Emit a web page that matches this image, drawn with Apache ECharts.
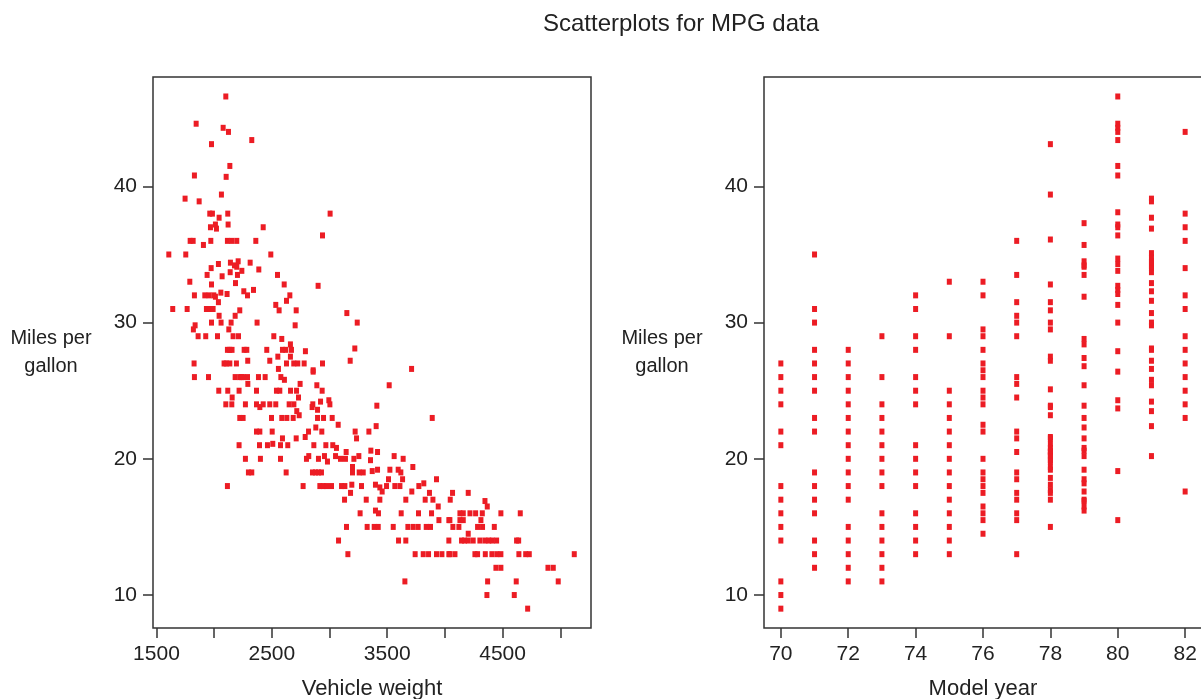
<!DOCTYPE html>
<html>
<head>
    <meta charset="utf-8" />
    <title>Scatterplots for MPG data</title>
    <style>
        html, body { margin: 0; padding: 0; background: #fff; }
        #container { width: 1201px; height: 699px; }
    </style>
</head>
<body>
<div id="container"></div>
<script src="https://cdn.jsdelivr.net/npm/echarts@6.0.0/dist/echarts.min.js"></script>
<script type="text/javascript">

    // left panel: vehicle weight vs miles per gallon
    var weightVals = [
        2101,1844,2078,2124,1977,2326,2136,1829,2104,1748,1870,2063,1962,1985,2043,2118,3005,1968,2011,2020,
        2121,2425,1792,1818,1907,1971,2115,2153,2196,2361,2939,1607,1754,2491,1974,2037,2141,2176,2196,2208,
        2139,2202,2240,2312,2387,1939,2069,2549,2607,2901,1789,1977,2185,1829,1919,1956,1997,2011,2037,2058,
        2112,2257,2289,2341,2656,2627,2534,2563,2711,3150,3240,1641,1766,1933,1960,1991,2043,2182,2222,1820,
        1835,1977,2060,2147,2127,2372,2702,1861,1927,2029,2164,2211,2517,2586,2661,3219,3179,3711,1826,2086,
        2105,2136,2193,2115,2135,2155,2260,2283,2456,2592,2621,2670,2791,2291,2482,2552,2661,2627,2690,2725,
        2780,2939,2557,2858,
        1829,1951,2182,2222,2237,2251,2289,2384,2442,2578,2609,2858,2890,3517,2040,2118,2216,2367,2540,2569,
        2662,2714,2936,2745,2292,2156,2731,2101,2153,2271,2367,2396,2425,2482,2534,2650,2691,2849,2855,2896,
        2922,2994,3003,2716,2737,3410,2222,2251,2497,2586,2630,2685,2896,2948,3023,3075,2881,3222,3341,3234,
        3404,3890,2367,2396,2503,2592,2711,2789,2818,2933,2216,2393,2462,2508,2575,2638,2864,2968,3028,3060,
        2271,2401,2575,2800,2820,2904,2956,2982,3052,3095,3138,3144,3211,3254,3358,3416,3355,3560,3638,3722,
        2297,2326,2624,2852,2878,2904,2930,3199,3199,3257,3292,3370,3416,3523,3595,3618,3633,3511,3566,3610,
        3927,3774,3817,3713,3866,3829,3896,3942,2771,2916,2945,2974,3017,3104,3133,3193,3277,3398,3436,3456,
        3494,2115,3182,3130,3318,3436,3661,3398,3424,3265,3621,3771,3884,3147,3326,3387,3422,3552,3679,3725,
        3768,3838,3875,3948,4034,3078,3598,3661,4034,3159,3742,3812,3858,3927,3974,4034,3653,
        4066,4202,4046,4347,4367,4130,4159,4217,4266,4324,4485,4653,4043,4130,4159,4312,4069,4121,4283,4326,
        4428,4202,4144,4170,4202,4245,4303,4347,4380,4410,4448,4621,4639,4043,4087,4260,4283,4350,4407,4450,
        4485,4641,4700,4731,5121,4442,4485,4893,4939,4370,4618,4982,4364,4601,4717
    ];
    var weightMpg = [
        46.6,44.6,44.3,44.0,43.1,43.4,41.5,40.8,40.7,39.1,38.9,39.4,38,38,37.7,38,38,37,37.2,36.9,
        37.2,37,36,36,35.7,36,36,36,36,36,36.4,35,35,35,34,34.3,34.4,34.2,34.1,34.5,
        33.7,33.5,33.8,34.4,33.9,33.5,33.4,33.5,32.8,32.7,33,32.8,32.9,32,32,32,32,31.9,31.5,32.2,
        32.1,32.3,32,32.4,32,31.6,31.3,30.9,30.9,30.7,30,31,31,31,31,31,30.5,30.5,30.9,29.5,
        29.8,30,30,30,29.5,30,29.8,29,29,29,29,29,29,28.8,28.4,28.1,27.2,26.6,27,27,
        27,27,27,28,28,28,28,28,28,28,28,28,27.9,27.2,27.2,27.5,27.5,27,27,27,
        27,27,26.6,26.5,
        26,26,26,26,26,26,26,26,26,26,25.8,26.4,25.4,25.4,25,25,25,25,25,25,
        25,25,25,25.5,25.5,24.5,24.5,24,24,24,24,23.8,24,24,24,24,24,23.8,24,23.6,
        24.2,24.3,24,23.5,23.2,23.9,23,23,23,23,23,23,23,23,23,22.5,22.3,22,22,21.5,
        22.4,23,22,22,22,21.5,21.5,21.6,22,22,21,21,21,21.1,21,21,21,21,21,20.8,
        20,20,20,20,20.2,20,20.2,19.8,20.2,20,20,20.5,20,20.2,20.6,20.5,19.9,20.2,20,19.4,
        19,19,19,19,19,19,19,19.4,19,19,19,19.1,19.2,19.2,19.2,19,18.5,18.5,18,18,
        18.5,18,18.2,17.6,17.5,17,17,16.5,18,18,18,18,18,18,18,18.1,18,18.1,17.9,17.6,
        18,18,17.5,17,17,17,17,16.2,16,16,16,16,16,15,15,15,15,15,15,15,
        15,15,15,15.5,15.5,14,14,14,14,13,13,13,13,13,13,13,11,
        17.5,17.5,17,16.9,16.5,16,16,16,16,16,16,16,15.5,15.5,15.5,15.5,15,15,15,15,
        15,14.5,14,14,14,14,14,14,14,14,14,14,14,13,13,13,13,13,13,13,
        13,13,13,13,13,12,12,12,12,11,11,11,10,10,9
    ];

    // right panel: model year vs miles per gallon
    var yearVals = [
        70,70,70,70,70,70,70,70,70,70,70,70,70,70,
        71,71,71,71,71,71,71,71,71,71,71,71,71,71,71,71,
        72,72,72,72,72,72,72,72,72,72,72,72,72,72,72,72,72,
        73,73,73,73,73,73,73,73,73,73,73,73,73,73,73,
        74,74,74,74,74,74,74,74,74,74,74,74,74,74,74,
        75,75,75,75,75,75,75,75,75,75,75,75,75,75,75,
        76,76,76,76,76,76,76,76,76,76,76,76,76,76,76,76,76,76,76,76,76,76,
        77,77,77,77,77,77,77,77,77,77,77,77,77,77,77,77,77,77,77,
        78,78,78,78,78,78,78,78,78,78,78,78,78,78,78,78,78,78,78,78,78,78,78,78,78,78,78,78,78,78,78,78,
        79,79,79,79,79,79,79,79,79,79,79,79,79,79,79,79,79,79,79,79,79,79,79,79,79,79,79,
        80,80,80,80,80,80,80,80,80,80,80,80,80,80,80,80,80,80,80,80,80,80,80,80,80,
        81,81,81,81,81,81,81,81,81,81,81,81,81,81,81,81,81,81,81,81,81,81,81,81,81,81,81,
        82,82,82,82,82,82,82,82,82,82,82,82,82,82,82
    ];
    var yearMpg = [
        27,26,25,24,22,21,18,17,16,15,14,11,10,9,
        35,31,30,28,27,26,25,23,22,19,18,17,16,14,13,12,
        28,27,26,25,24,23,22,21,20,19,18,17,15,14,13,12,11,
        29,26,24,23,22,21,20,19,18,16,15,14,13,12,11,
        32,31,29,28,26,25,24,21,20,19,18,16,15,14,13,
        33,29,25,24,23,22,21,20,19,18,17,16,15,14,13,
        33,32,29.5,29,28,27,26.5,26,25,24.5,24,22.5,22,20,19,18.5,18,17.5,16.5,16,15.5,14.5,13,
        36,33.5,31.5,30.5,30,29,26,25.5,24.5,22,21.5,20.5,19,18.5,17.5,17,16,15.5,15,
        43.1,39.4,36.1,32.8,31.5,30.9,30,29.5,27.5,27.2,25.1,23.9,23.8,23.2,21.6,21.5,21.1,20.8,20.6,20.5,20.3,20.2,19.9,19.8,19.4,19.2,18.6,18.1,17.7,17.5,17,16.2,
        37.3,35.7,34.5,34.2,34.1,33.5,31.9,28.8,28.4,27.4,26.8,25.4,23.9,23,22.3,21.5,20.8,20.6,20.2,19.2,18.5,18.2,17.6,17,16.9,16.5,15.5,
        46.6,44.6,44.3,44,43.4,41.5,40.8,38.1,37.2,37,36.4,34.7,34.3,33.8,32.7,32.4,32.1,31.3,30,27.9,26.4,24.3,23.7,19.1,29.8,
        39.1,38.9,37.7,36.9,35.1,34.8,34.5,34.4,34.1,34,33.7,32.9,32.3,31.6,30.7,30,28.1,28,27.2,26.6,25.8,25.4,24.2,23.5,22.4,20.2,17.6,
        44,38,37,36,34,32,31,29,28,27,26,25,24,23,22
    ];

    var weightTicks = [1500, 2000, 2500, 3000, 3500, 4000, 4500, 5000];
    var weightLabels = [1500, 2500, 3500, 4500];
    var yearTicks = [70, 72, 74, 76, 78, 80, 82];
    var mpgTicks = [10, 20, 30, 40];

    var font = '"Liberation Sans", Arial, sans-serif';
    var ink = '#222';
    var frame = '#333';
    var red = '#ec1c24';

    function pairs(xs, ys) {
        var out = [];
        for (var i = 0; i < xs.length; i++) out.push([xs[i], ys[i]]);
        return out;
    }

    function plain(v) { return String(v); }

    function xAxisFor(idx, name, min, max, ticks, labels) {
        return {
            type: 'value', gridIndex: idx, min: min, max: max,
            name: name, nameLocation: 'middle', nameGap: 50,
            nameTextStyle: { fontFamily: font, fontSize: 22, color: ink },
            axisLine: { show: false },
            splitLine: { show: false },
            axisTick: { show: true, length: 10, customValues: ticks,
                        lineStyle: { color: frame, width: 1.5 } },
            axisLabel: { customValues: labels, formatter: plain, margin: 16,
                         fontFamily: font, fontSize: 21, color: ink }
        };
    }

    function yAxisFor(idx) {
        return {
            type: 'value', gridIndex: idx, min: 7.58, max: 48.03,
            name: 'Miles per\ngallon', nameLocation: 'middle', nameRotate: 0, nameGap: 102,
            nameTextStyle: { fontFamily: font, fontSize: 20, color: ink, align: 'center', lineHeight: 28 },
            axisLine: { show: false },
            splitLine: { show: false },
            axisTick: { show: true, length: 10, customValues: mpgTicks,
                        lineStyle: { color: frame, width: 1.5 } },
            axisLabel: { customValues: mpgTicks, formatter: plain, margin: 16,
                         fontFamily: font, fontSize: 21, color: ink }
        };
    }

    var chart = echarts.init(document.getElementById('container'));

    chart.setOption({
        animation: false,
        backgroundColor: '#fff',
        title: {
            text: 'Scatterplots for MPG data',
            left: 676, top: 7, textAlign: 'center',
            textStyle: { fontFamily: font, fontSize: 24, fontWeight: 'normal', color: ink }
        },
        grid: [
            { left: 153, top: 77, width: 438, height: 551, show: true, borderColor: frame, borderWidth: 1.5,
              outerBoundsMode: 'none', containLabel: false },
            { left: 764, top: 77, width: 438, height: 551, show: true, borderColor: frame, borderWidth: 1.5,
              outerBoundsMode: 'none', containLabel: false }
        ],
        xAxis: [
            xAxisFor(0, 'Vehicle weight', 1470, 5266, weightTicks, weightLabels),
            xAxisFor(1, 'Model year', 69.5, 82.5, yearTicks, yearTicks)
        ],
        yAxis: [yAxisFor(0), yAxisFor(1)],
        series: [
            {
                type: 'scatter', xAxisIndex: 0, yAxisIndex: 0,
                symbol: 'rect', symbolSize: [5, 6],
                itemStyle: { color: red, opacity: 1 },
                data: pairs(weightVals, weightMpg)
            },
            {
                type: 'scatter', xAxisIndex: 1, yAxisIndex: 1,
                symbol: 'rect', symbolSize: [5, 6],
                itemStyle: { color: red, opacity: 1 },
                data: pairs(yearVals, yearMpg)
            }
        ]
    });

</script>
</body>
</html>
